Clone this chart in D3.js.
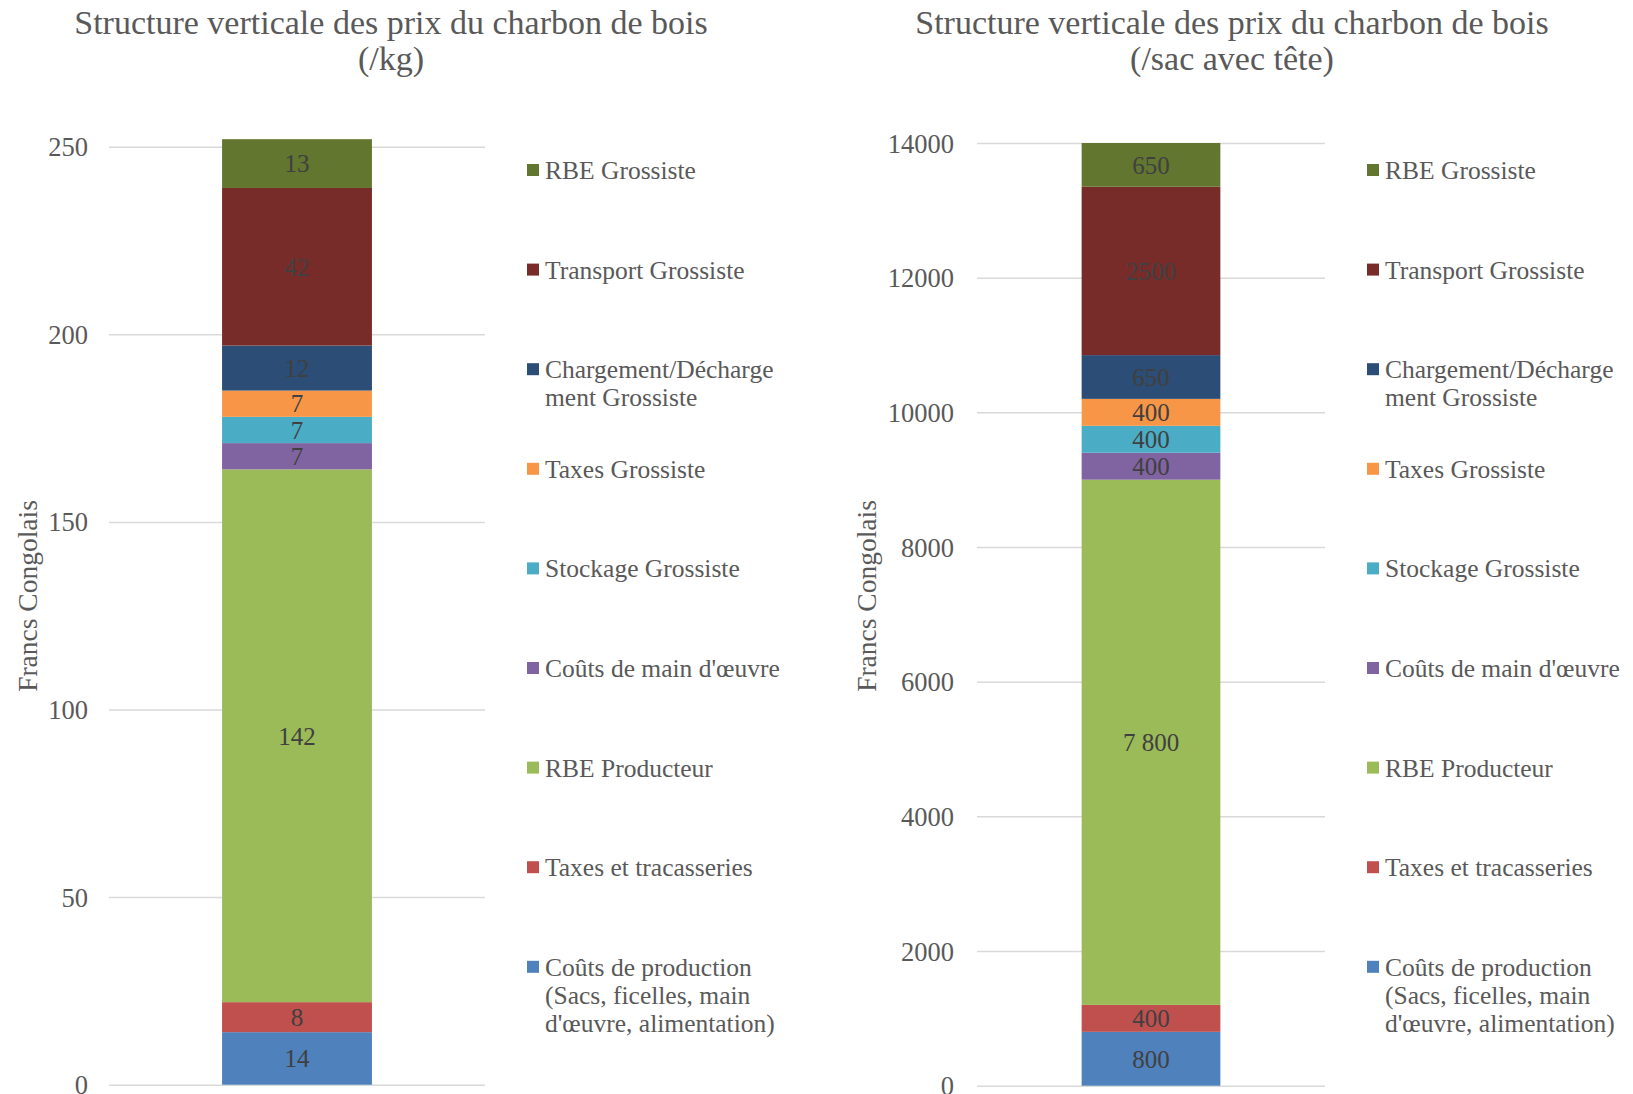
<!DOCTYPE html>
<html>
<head>
<meta charset="utf-8">
<script src="https://cdn.jsdelivr.net/npm/d3@7"></script>
<style>
  html, body { margin: 0; padding: 0; background: #ffffff; }
  svg { display: block; }
  text { font-family: "Liberation Serif", "DejaVu Serif", serif; }
</style>
</head>
<body>
<svg id="chart" width="1633" height="1094"></svg>
<script>
// Cost components, bottom of the stack first
const components = [
  "Coûts de production (Sacs, ficelles, main d'œuvre, alimentation)",
  "Taxes et tracasseries",
  "RBE Producteur",
  "Coûts de main d'œuvre",
  "Stockage Grossiste",
  "Taxes Grossiste",
  "Chargement/Déchargement Grossiste",
  "Transport Grossiste",
  "RBE Grossiste"
];

// Legend text, already broken into lines
const legendLines = [
  ["Coûts de production", "(Sacs, ficelles, main", "d'œuvre, alimentation)"],
  ["Taxes et tracasseries"],
  ["RBE Producteur"],
  ["Coûts de main d'œuvre"],
  ["Stockage Grossiste"],
  ["Taxes Grossiste"],
  ["Chargement/Décharge", "ment Grossiste"],
  ["Transport Grossiste"],
  ["RBE Grossiste"]
];

const colors = ["#4F81BD", "#C0504D", "#9BBB59", "#8064A2", "#4BACC6",
                "#F79646", "#2C4D75", "#772C2A", "#62762F"];

// Price per kg (Francs Congolais)
const kgValues = [14, 8, 142, 7, 7, 7, 12, 42, 13];
const kgTicks = [0, 50, 100, 150, 200, 250];

// Price per sack with head (Francs Congolais)
const sacValues = [800, 400, 7800, 400, 400, 400, 650, 2500, 650];
const sacLabels = ["800", "400", "7 800", "400", "400", "400", "650", "2500", "650"];
const sacTicks = [0, 2000, 4000, 6000, 8000, 10000, 12000, 14000];

const svg = d3.select("#chart");
const textGrey = "#595959";
const labelGrey = "#404040";
const gridGrey = "#D9D9D9";

function drawPanel(cfg) {
  const g = svg.append("g");

  const y = d3.scaleLinear().domain([0, cfg.max]).range([cfg.y0, cfg.yTop]);
  const x = d3.scaleBand().domain(["total"]).range([cfg.x0, cfg.x1])
    .paddingInner(cfg.pad).paddingOuter(cfg.pad);

  // Title
  g.append("text")
    .attr("x", cfg.titleX).attr("y", 34)
    .attr("text-anchor", "middle")
    .attr("fill", textGrey)
    .style("font-size", "34px")
    .selectAll("tspan")
    .data(cfg.title)
    .join("tspan")
    .attr("x", cfg.titleX)
    .attr("dy", (d, i) => i === 0 ? 0 : 36)
    .text(d => d);

  // Gridlines and tick labels
  const axis = d3.axisLeft(y).tickValues(cfg.ticks)
    .tickSize(-(cfg.x1 - cfg.x0)).tickPadding(cfg.tickPad)
    .tickFormat(d3.format("d"));
  const ax = g.append("g").attr("transform", `translate(${cfg.x0},0)`).call(axis);
  ax.select(".domain").remove();
  ax.selectAll(".tick line").attr("stroke", gridGrey).attr("stroke-width", 1.5);
  ax.selectAll(".tick text")
    .attr("fill", textGrey)
    .style("font-size", "26.5px")
    .attr("dy", "0.34em");

  // Axis title
  g.append("text")
    .attr("transform", `translate(${cfg.axisTitleX},${cfg.axisTitleY}) rotate(-90)`)
    .attr("text-anchor", "middle")
    .attr("dy", "0.35em")
    .attr("fill", textGrey)
    .style("font-size", "27.5px")
    .text("Francs Congolais");

  // Stacked segments
  const stackData = [];
  let acc = 0;
  cfg.values.forEach((v, i) => {
    stackData.push({ i, v, lo: acc, hi: acc + v, label: cfg.labels[i] });
    acc += v;
  });

  g.selectAll("rect.seg")
    .data(stackData)
    .join("rect")
    .attr("class", "seg")
    .attr("x", x("total"))
    .attr("width", x.bandwidth())
    .attr("y", d => y(d.hi))
    .attr("height", d => y(d.lo) - y(d.hi))
    .attr("fill", d => colors[d.i]);

  g.selectAll("text.val")
    .data(stackData)
    .join("text")
    .attr("class", "val")
    .attr("x", x("total") + x.bandwidth() / 2)
    .attr("y", d => (y(d.lo) + y(d.hi)) / 2)
    .attr("dy", "0.35em")
    .attr("text-anchor", "middle")
    .attr("fill", labelGrey)
    .style("font-size", "25px")
    .text(d => d.label);

  // Legend, top entry is the top of the stack
  const order = d3.range(components.length).reverse();
  const leg = g.append("g");
  order.forEach((idx, k) => {
    const yy = cfg.legendY0 + k * cfg.legendStep;
    leg.append("rect")
      .attr("x", cfg.legendX).attr("y", yy - 6)
      .attr("width", 12).attr("height", 12)
      .attr("fill", colors[idx]);
    const t = leg.append("text")
      .attr("x", cfg.legendX + 18).attr("y", yy)
      .attr("fill", textGrey)
      .style("font-size", "25.5px");
    t.selectAll("tspan")
      .data(legendLines[idx])
      .join("tspan")
      .attr("x", cfg.legendX + 18)
      .attr("dy", (d, i) => i === 0 ? "0.35em" : 28)
      .text(d => d);
  });
}

drawPanel({
  title: ["Structure verticale des prix du charbon de bois", "(/kg)"],
  titleX: 391,
  max: 250, y0: 1084.7, yTop: 146.7,
  x0: 109, x1: 485, pad: 0.43,
  ticks: kgTicks, tickPad: 21,
  values: kgValues, labels: kgValues.map(String),
  axisTitleX: 27, axisTitleY: 596,
  legendX: 527, legendY0: 170, legendStep: 99.6
});

drawPanel({
  title: ["Structure verticale des prix du charbon de bois", "(/sac avec tête)"],
  titleX: 1232,
  max: 14000, y0: 1085.7, yTop: 143,
  x0: 977, x1: 1325, pad: 0.43,
  ticks: sacTicks, tickPad: 23,
  values: sacValues, labels: sacLabels,
  axisTitleX: 866, axisTitleY: 596,
  legendX: 1367, legendY0: 170, legendStep: 99.6
});
</script>
</body>
</html>
